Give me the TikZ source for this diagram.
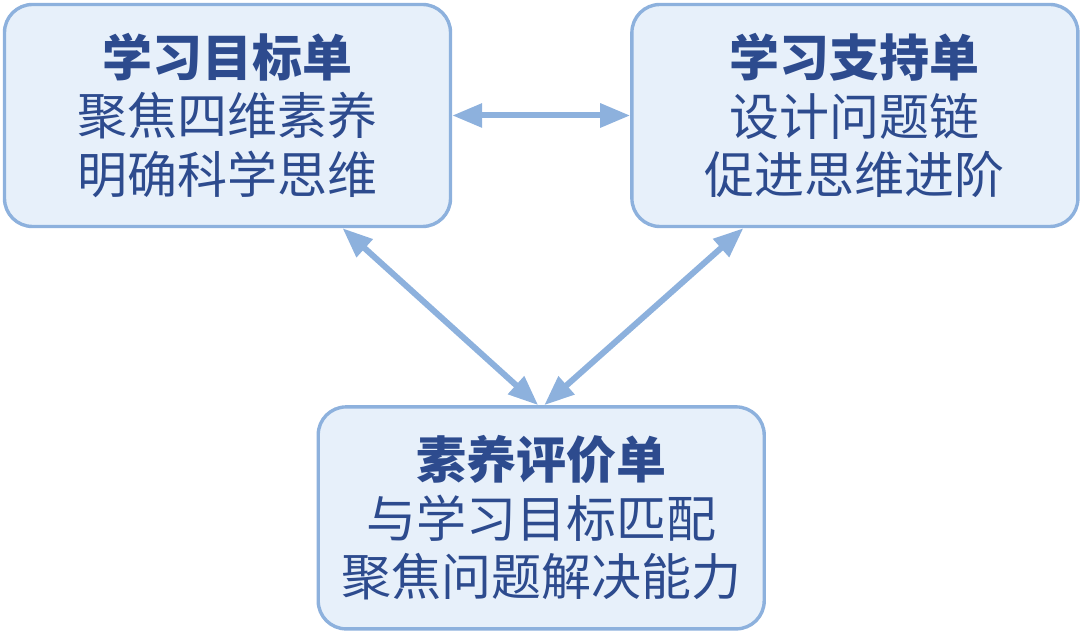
\documentclass[tikz,border=0pt]{standalone}
\usepackage{fontspec}
\newfontfamily\cjk{Noto Sans CJK SC}
\usetikzlibrary{positioning, arrows.meta, calc}
\definecolor{boxfill}{HTML}{E7F0FA}
\definecolor{boxline}{HTML}{8DB1DD}
\definecolor{ink}{HTML}{2D4B8E}

\begin{document}
\begin{tikzpicture}[
sheet/.style={rectangle, draw=boxline, fill=boxfill, line width=1.7pt, rounded corners=14pt, align=center, minimum width=223pt, minimum height=111pt, inner sep=0pt, text=ink, font=\cjk\fontsize{25pt}{29.2pt}\selectfont},
link/.style={draw=boxline, line width=3pt, {Triangle[length=15pt,width=11.5pt]}-{Triangle[length=15pt,width=11.5pt]}}]
    \useasboundingbox (0,0) rectangle (540pt,315.5pt);

    \node[sheet] (goal) at (113.75pt,257.75pt) {\textbf{学习目标单}\\聚焦四维素养\\明确科学思维};
    \node[sheet, right=89pt of goal] (support) {\textbf{学习支持单}\\设计问题链\\促进思维进阶};
    \coordinate (mid) at ($(goal.south)!0.5!(support.south)$);
    \node[sheet, below=88.5pt of mid] (eval) {\textbf{素养评价单}\\与学习目标匹配\\聚焦问题解决能力};

    \draw[link] (goal) -- (support);
    \draw[link] ([xshift=57.5pt]goal.south) -- ([xshift=-1.5pt]eval.north);
    \draw[link] ([xshift=-55.75pt]support.south) -- ([xshift=1.5pt]eval.north);
\end{tikzpicture}
\end{document}
